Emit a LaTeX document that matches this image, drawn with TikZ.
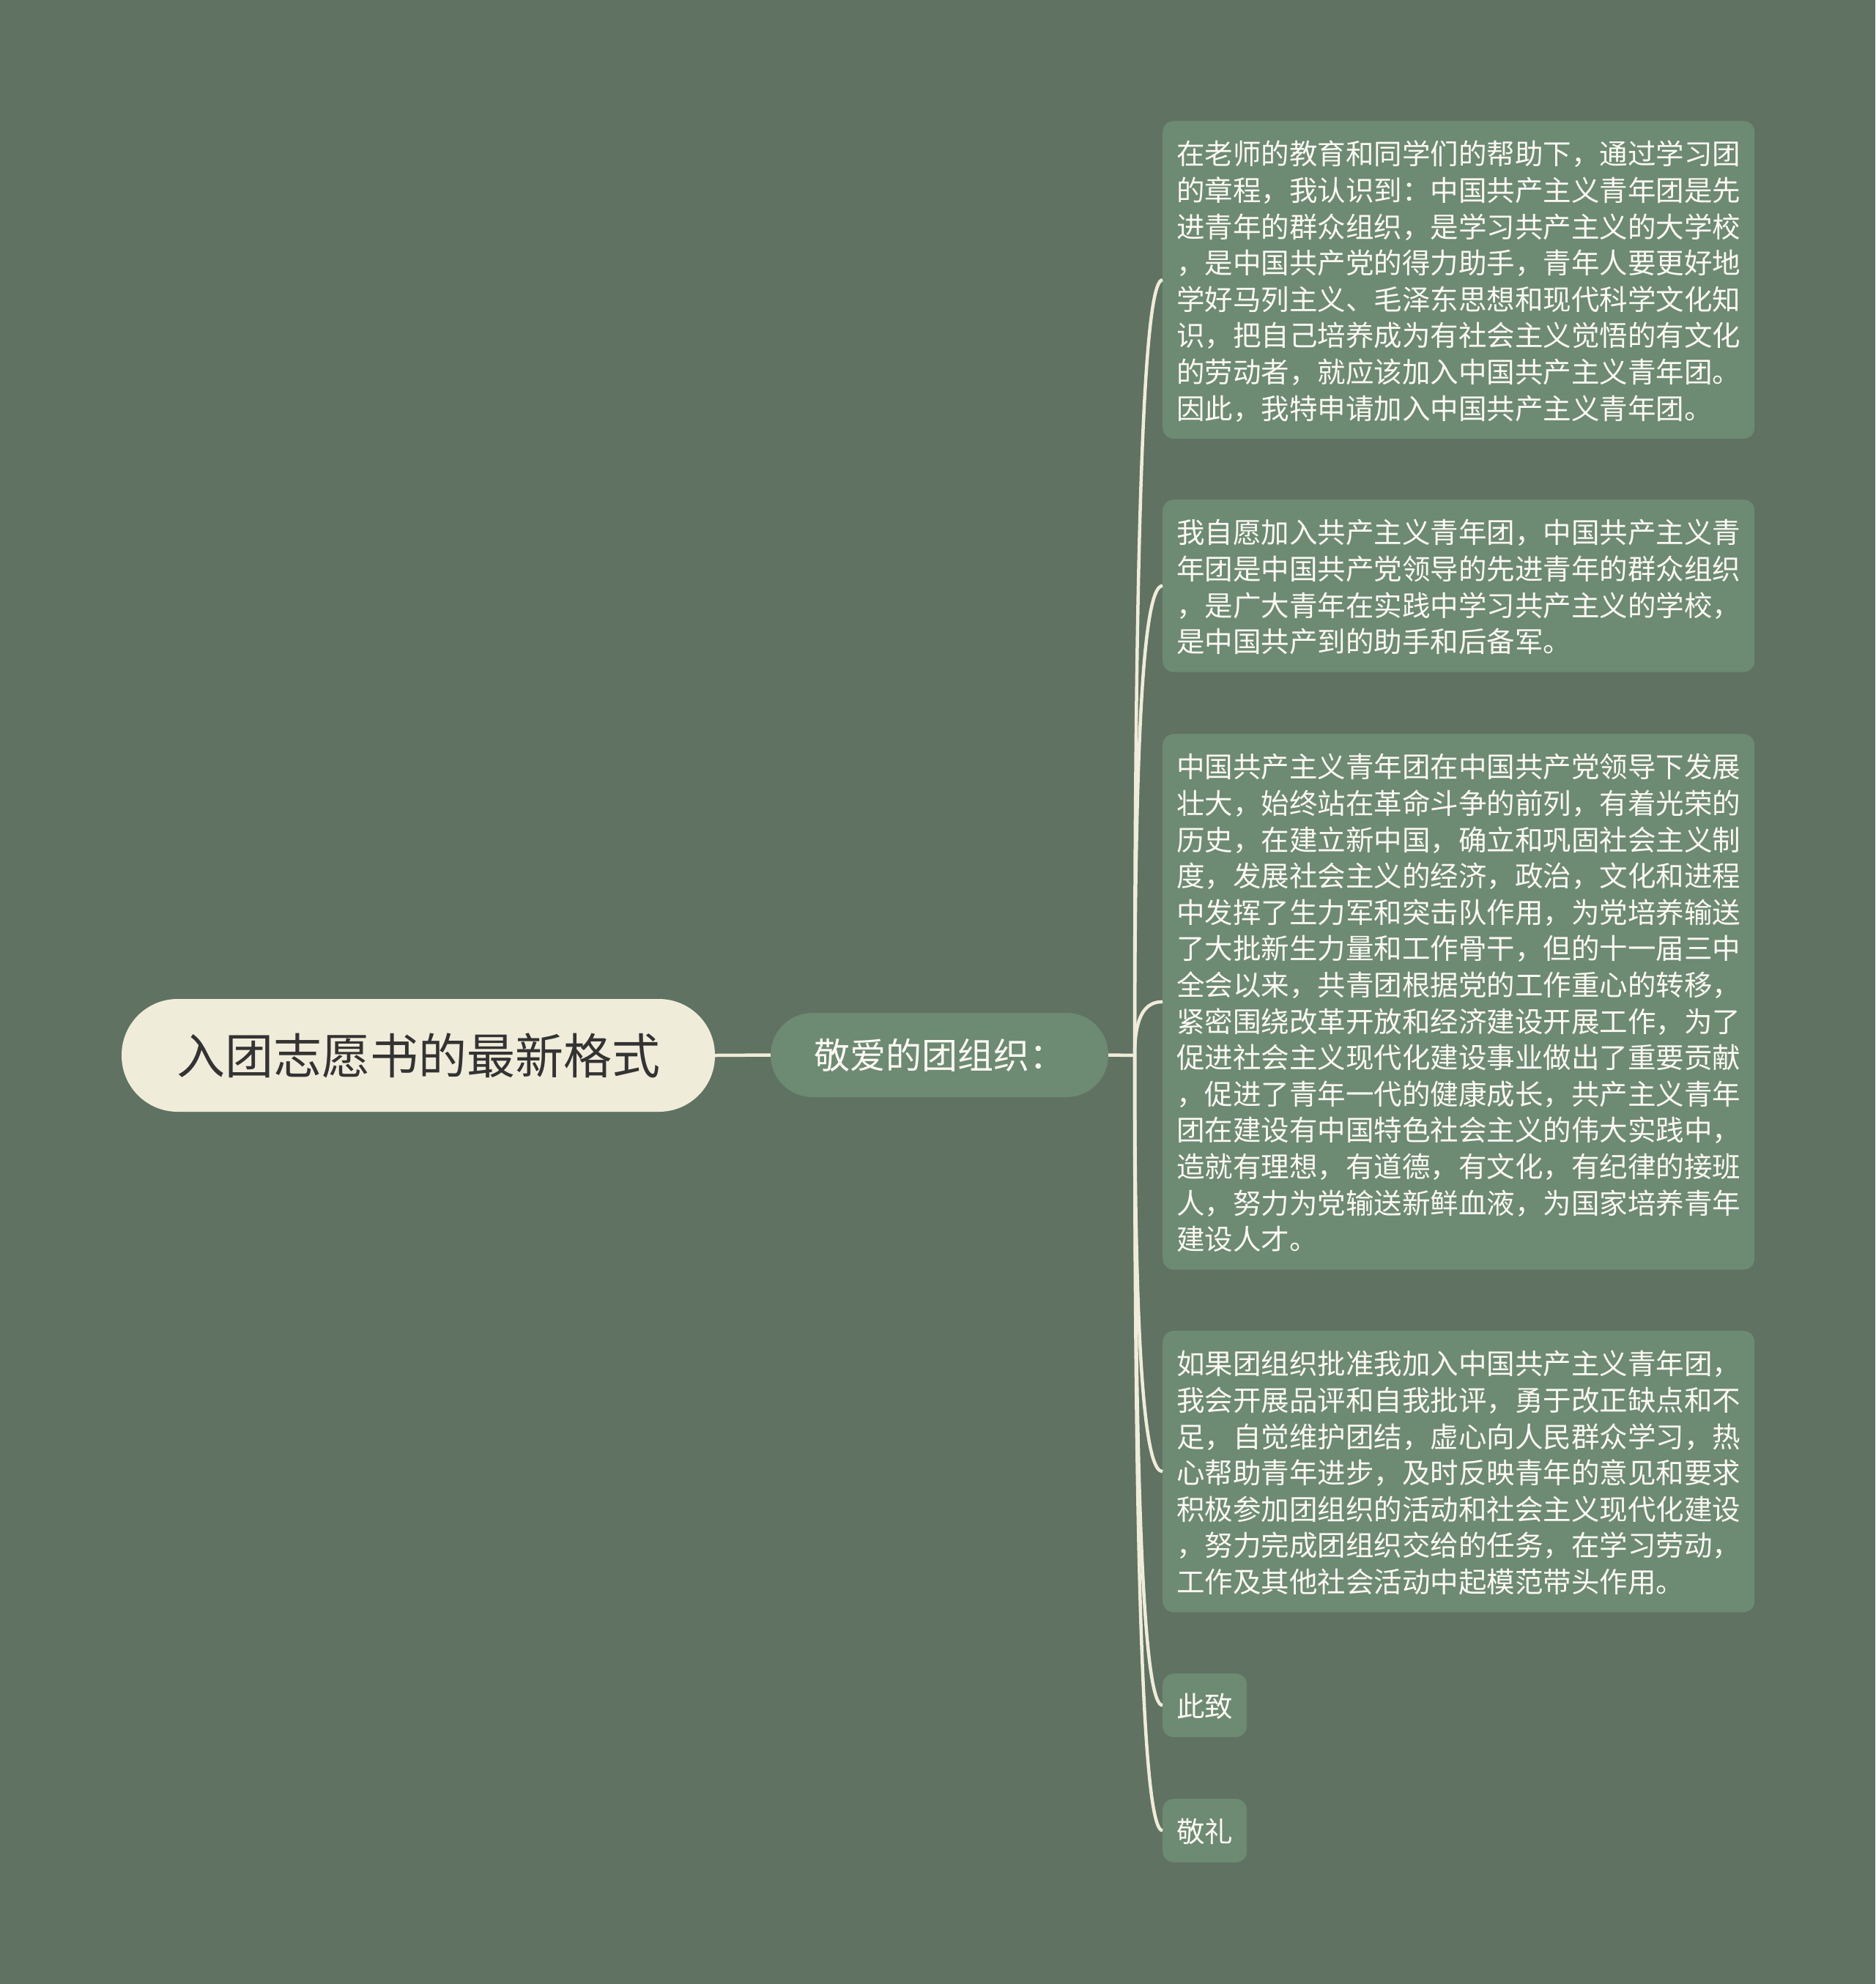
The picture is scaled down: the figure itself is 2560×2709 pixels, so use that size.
\documentclass[tikz,border=0pt]{standalone}
\usepackage{fontspec}
\newfontfamily\cjk{Noto Sans CJK SC}
\definecolor{bgc}{RGB}{96,114,98}
\definecolor{boxc}{RGB}{109,138,114}
\definecolor{creamc}{RGB}{240,236,218}
\definecolor{rootTxt}{RGB}{51,51,51}
\definecolor{boxTxt}{RGB}{252,250,244}
\newcommand\ls{\rule[-8.4pt]{0pt}{49.6pt}}
\tikzset{
  rootbox/.style={draw=none, fill=creamc, rounded corners=76.5pt, minimum width=810pt, minimum height=154pt,
    inner sep=0pt, text=rootTxt, font=\cjk\fontsize{66}{80}\selectfont},
  subbox/.style={draw=none, fill=boxc, rounded corners=57pt, minimum width=461pt, minimum height=115pt,
    inner sep=0pt, text=boxTxt, font=\cjk\fontsize{49}{60}\selectfont},
  leafbox/.style={draw=none, fill=boxc, rounded corners=15pt, inner xsep=19pt, inner ysep=18.5pt,
    text=boxTxt, font=\cjk\fontsize{38.5}{49.6}\selectfont, align=left, anchor=north west},
  widebox/.style={leafbox, text width=770pt},
  link/.style={draw=creamc, line width=4.5pt}
}
\begin{document}
\begin{tikzpicture}[x=1pt,y=-1pt]
\fill[bgc] (0,0) rectangle (2560,2709);
\useasboundingbox (0,0) rectangle (2560,2709);

\node[rootbox] (root) at (571,1441) {入团志愿书的最新格式};
\node[subbox] (sub) at (1282.5,1440.5) {敬爱的团组织：};

\node[widebox] (b1) at (1587,165) {\ls{}在老师的教育和同学们的帮助下，通过学习团\\
\ls{}的章程，我认识到：中国共产主义青年团是先\\
\ls{}进青年的群众组织，是学习共产主义的大学校\\
\ls{}，是中国共产党的得力助手，青年人要更好地\\
\ls{}学好马列主义、毛泽东思想和现代科学文化知\\
\ls{}识，把自己培养成为有社会主义觉悟的有文化\\
\ls{}的劳动者，就应该加入中国共产主义青年团。\\
\ls{}因此，我特申请加入中国共产主义青年团。};

\node[widebox] (b2) at (1587,682) {\ls{}我自愿加入共产主义青年团，中国共产主义青\\
\ls{}年团是中国共产党领导的先进青年的群众组织\\
\ls{}，是广大青年在实践中学习共产主义的学校，\\
\ls{}是中国共产到的助手和后备军。};

\node[widebox] (b3) at (1587,1002) {\ls{}中国共产主义青年团在中国共产党领导下发展\\
\ls{}壮大，始终站在革命斗争的前列，有着光荣的\\
\ls{}历史，在建立新中国，确立和巩固社会主义制\\
\ls{}度，发展社会主义的经济，政治，文化和进程\\
\ls{}中发挥了生力军和突击队作用，为党培养输送\\
\ls{}了大批新生力量和工作骨干，但的十一届三中\\
\ls{}全会以来，共青团根据党的工作重心的转移，\\
\ls{}紧密围绕改革开放和经济建设开展工作，为了\\
\ls{}促进社会主义现代化建设事业做出了重要贡献\\
\ls{}，促进了青年一代的健康成长，共产主义青年\\
\ls{}团在建设有中国特色社会主义的伟大实践中，\\
\ls{}造就有理想，有道德，有文化，有纪律的接班\\
\ls{}人，努力为党输送新鲜血液，为国家培养青年\\
\ls{}建设人才。};

\node[widebox] (b4) at (1587,1817) {\ls{}如果团组织批准我加入中国共产主义青年团，\\
\ls{}我会开展品评和自我批评，勇于改正缺点和不\\
\ls{}足，自觉维护团结，虚心向人民群众学习，热\\
\ls{}心帮助青年进步，及时反映青年的意见和要求\\
\ls{}积极参加团组织的活动和社会主义现代化建设\\
\ls{}，努力完成团组织交给的任务，在学习劳动，\\
\ls{}工作及其他社会活动中起模范带头作用。};

\node[leafbox] (b5) at (1587,2285) {\ls{}此致};
\node[leafbox] (b6) at (1587,2456) {\ls{}敬礼};

\coordinate (hub) at (1549,1441);

\draw[link] (root.east) -- (sub.west);
\draw[link] (sub.east) -- (hub);
\draw[link] (hub) .. controls (1549,594.2) and (1566,382.5) .. (b1.west);
\draw[link] (hub) .. controls (1549,928) and (1566,799.7) .. (b2.west);
\draw[link] (hub) .. controls (1549,1382.4) and (1566,1367.7) .. (b3.west);
\draw[link] (hub) .. controls (1549,1895.4) and (1566,2009) .. (b4.west);
\draw[link] (hub) .. controls (1549,2150.8) and (1566,2328.3) .. (b5.west);
\draw[link] (hub) .. controls (1549,2287.6) and (1566,2499.3) .. (b6.west);
\end{tikzpicture}
\end{document}
